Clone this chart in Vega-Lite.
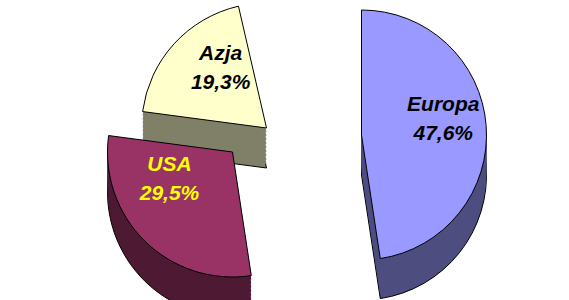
{
  "$schema": "https://vega.github.io/schema/vega-lite/v6.json",
  "width": 569,
  "height": 300,
  "autosize": "none",
  "padding": 0,
  "background": "white",
  "config": {"view": {"stroke": null}},
  "data": {
    "values": [
      {"region": "Europa", "share": 47.6},
      {"region": "USA", "share": 29.5},
      {"region": "Azja", "share": 19.3}
    ]
  },
  "transform": [
    {"stack": "share", "groupby": [], "as": ["t0", "t1"]},
    {"calculate": "(datum.t0 + datum.t1) / 2", "as": "mid"},
    {"calculate": "[datum.region, replace(format(datum.share, '.1f'), '.', ',') + '%']", "as": "label"}
  ],
  "encoding": {
    "theta": {"field": "t0", "type": "quantitative", "scale": {"domain": [0, 100]}, "stack": null},
    "theta2": {"field": "t1"}
  },
  "layer": [
    {"transform": [{"filter": "datum.region === 'Azja'"}], "mark": {"type": "arc", "radius": 125, "xOffset": -18, "yOffset": 18, "color": "#808068", "stroke": "black", "strokeWidth": 1}},
    {"transform": [{"filter": "datum.region === 'Azja'"}], "mark": {"type": "arc", "radius": 125, "xOffset": -18, "yOffset": 14, "color": "#808068"}},
    {"transform": [{"filter": "datum.region === 'Azja'"}], "mark": {"type": "arc", "radius": 125, "xOffset": -18, "yOffset": 10, "color": "#808068"}},
    {"transform": [{"filter": "datum.region === 'Azja'"}], "mark": {"type": "arc", "radius": 125, "xOffset": -18, "yOffset": 6, "color": "#808068"}},
    {"transform": [{"filter": "datum.region === 'Azja'"}], "mark": {"type": "arc", "radius": 125, "xOffset": -18, "yOffset": 2, "color": "#808068"}},
    {"transform": [{"filter": "datum.region === 'Azja'"}], "mark": {"type": "arc", "radius": 125, "xOffset": -18, "yOffset": -2, "color": "#808068"}},
    {"transform": [{"filter": "datum.region === 'Azja'"}], "mark": {"type": "arc", "radius": 125, "xOffset": -18, "yOffset": -6, "color": "#808068"}},
    {"transform": [{"filter": "datum.region === 'Azja'"}], "mark": {"type": "arc", "radius": 125, "xOffset": -18, "yOffset": -10, "color": "#808068"}},
    {"transform": [{"filter": "datum.region === 'Azja'"}], "mark": {"type": "arc", "radius": 125, "xOffset": -18, "yOffset": -14, "color": "#808068"}},
    {"transform": [{"filter": "datum.region === 'Azja'"}], "mark": {"type": "arc", "radius": 125, "xOffset": -18, "yOffset": -18, "color": "#808068"}},
    {"transform": [{"filter": "datum.region === 'Azja'"}], "mark": {"type": "arc", "radius": 125, "xOffset": -18, "yOffset": -22, "color": "#FFFFCC", "stroke": "black", "strokeWidth": 1}},

    {"transform": [{"filter": "datum.region === 'USA'"}], "mark": {"type": "arc", "radius": 125, "xOffset": -52, "yOffset": 42, "color": "#4D1933", "stroke": "black", "strokeWidth": 1}},
    {"transform": [{"filter": "datum.region === 'USA'"}], "mark": {"type": "arc", "radius": 125, "xOffset": -52, "yOffset": 38, "color": "#4D1933"}},
    {"transform": [{"filter": "datum.region === 'USA'"}], "mark": {"type": "arc", "radius": 125, "xOffset": -52, "yOffset": 34, "color": "#4D1933"}},
    {"transform": [{"filter": "datum.region === 'USA'"}], "mark": {"type": "arc", "radius": 125, "xOffset": -52, "yOffset": 30, "color": "#4D1933"}},
    {"transform": [{"filter": "datum.region === 'USA'"}], "mark": {"type": "arc", "radius": 125, "xOffset": -52, "yOffset": 26, "color": "#4D1933"}},
    {"transform": [{"filter": "datum.region === 'USA'"}], "mark": {"type": "arc", "radius": 125, "xOffset": -52, "yOffset": 22, "color": "#4D1933"}},
    {"transform": [{"filter": "datum.region === 'USA'"}], "mark": {"type": "arc", "radius": 125, "xOffset": -52, "yOffset": 18, "color": "#4D1933"}},
    {"transform": [{"filter": "datum.region === 'USA'"}], "mark": {"type": "arc", "radius": 125, "xOffset": -52, "yOffset": 14, "color": "#4D1933"}},
    {"transform": [{"filter": "datum.region === 'USA'"}], "mark": {"type": "arc", "radius": 125, "xOffset": -52, "yOffset": 10, "color": "#4D1933"}},
    {"transform": [{"filter": "datum.region === 'USA'"}], "mark": {"type": "arc", "radius": 125, "xOffset": -52, "yOffset": 6, "color": "#4D1933"}},
    {"transform": [{"filter": "datum.region === 'USA'"}], "mark": {"type": "arc", "radius": 125, "xOffset": -52, "yOffset": 2, "color": "#993366", "stroke": "black", "strokeWidth": 1}},

    {"transform": [{"filter": "datum.region === 'Europa'"}], "mark": {"type": "arc", "radius": 125, "xOffset": 77, "yOffset": 25, "color": "#4D4D80", "stroke": "black", "strokeWidth": 1}},
    {"transform": [{"filter": "datum.region === 'Europa'"}], "mark": {"type": "arc", "radius": 125, "xOffset": 77, "yOffset": 21, "color": "#4D4D80"}},
    {"transform": [{"filter": "datum.region === 'Europa'"}], "mark": {"type": "arc", "radius": 125, "xOffset": 77, "yOffset": 17, "color": "#4D4D80"}},
    {"transform": [{"filter": "datum.region === 'Europa'"}], "mark": {"type": "arc", "radius": 125, "xOffset": 77, "yOffset": 13, "color": "#4D4D80"}},
    {"transform": [{"filter": "datum.region === 'Europa'"}], "mark": {"type": "arc", "radius": 125, "xOffset": 77, "yOffset": 9, "color": "#4D4D80"}},
    {"transform": [{"filter": "datum.region === 'Europa'"}], "mark": {"type": "arc", "radius": 125, "xOffset": 77, "yOffset": 5, "color": "#4D4D80"}},
    {"transform": [{"filter": "datum.region === 'Europa'"}], "mark": {"type": "arc", "radius": 125, "xOffset": 77, "yOffset": 1, "color": "#4D4D80"}},
    {"transform": [{"filter": "datum.region === 'Europa'"}], "mark": {"type": "arc", "radius": 125, "xOffset": 77, "yOffset": -3, "color": "#4D4D80"}},
    {"transform": [{"filter": "datum.region === 'Europa'"}], "mark": {"type": "arc", "radius": 125, "xOffset": 77, "yOffset": -7, "color": "#4D4D80"}},
    {"transform": [{"filter": "datum.region === 'Europa'"}], "mark": {"type": "arc", "radius": 125, "xOffset": 77, "yOffset": -11, "color": "#4D4D80"}},
    {"transform": [{"filter": "datum.region === 'Europa'"}], "mark": {"type": "arc", "radius": 125, "xOffset": 77, "yOffset": -15, "color": "#9999FF", "stroke": "black", "strokeWidth": 1}},

    {"transform": [{"filter": "datum.region === 'Azja'"}], "mark": {"type": "text", "radius": 62, "xOffset": -18, "yOffset": -54, "font": "Liberation Sans", "fontSize": 21, "fontStyle": "italic", "fontWeight": "bold", "color": "black", "lineHeight": 29}, "encoding": {"theta": {"field": "mid", "type": "quantitative", "stack": null}, "theta2": null, "text": {"field": "label"}}},
    {"transform": [{"filter": "datum.region === 'USA'"}], "mark": {"type": "text", "radius": 90, "xOffset": -52, "yOffset": -49, "font": "Liberation Sans", "fontSize": 21, "fontStyle": "italic", "fontWeight": "bold", "color": "#FFFF00", "lineHeight": 29}, "encoding": {"theta": {"field": "mid", "type": "quantitative", "stack": null}, "theta2": null, "text": {"field": "label"}}},
    {"transform": [{"filter": "datum.region === 'Europa'"}], "mark": {"type": "text", "radius": 82, "xOffset": 77, "yOffset": -39, "font": "Liberation Sans", "fontSize": 21, "fontStyle": "italic", "fontWeight": "bold", "color": "black", "lineHeight": 29}, "encoding": {"theta": {"field": "mid", "type": "quantitative", "stack": null}, "theta2": null, "text": {"field": "label"}}}
  ]
}
